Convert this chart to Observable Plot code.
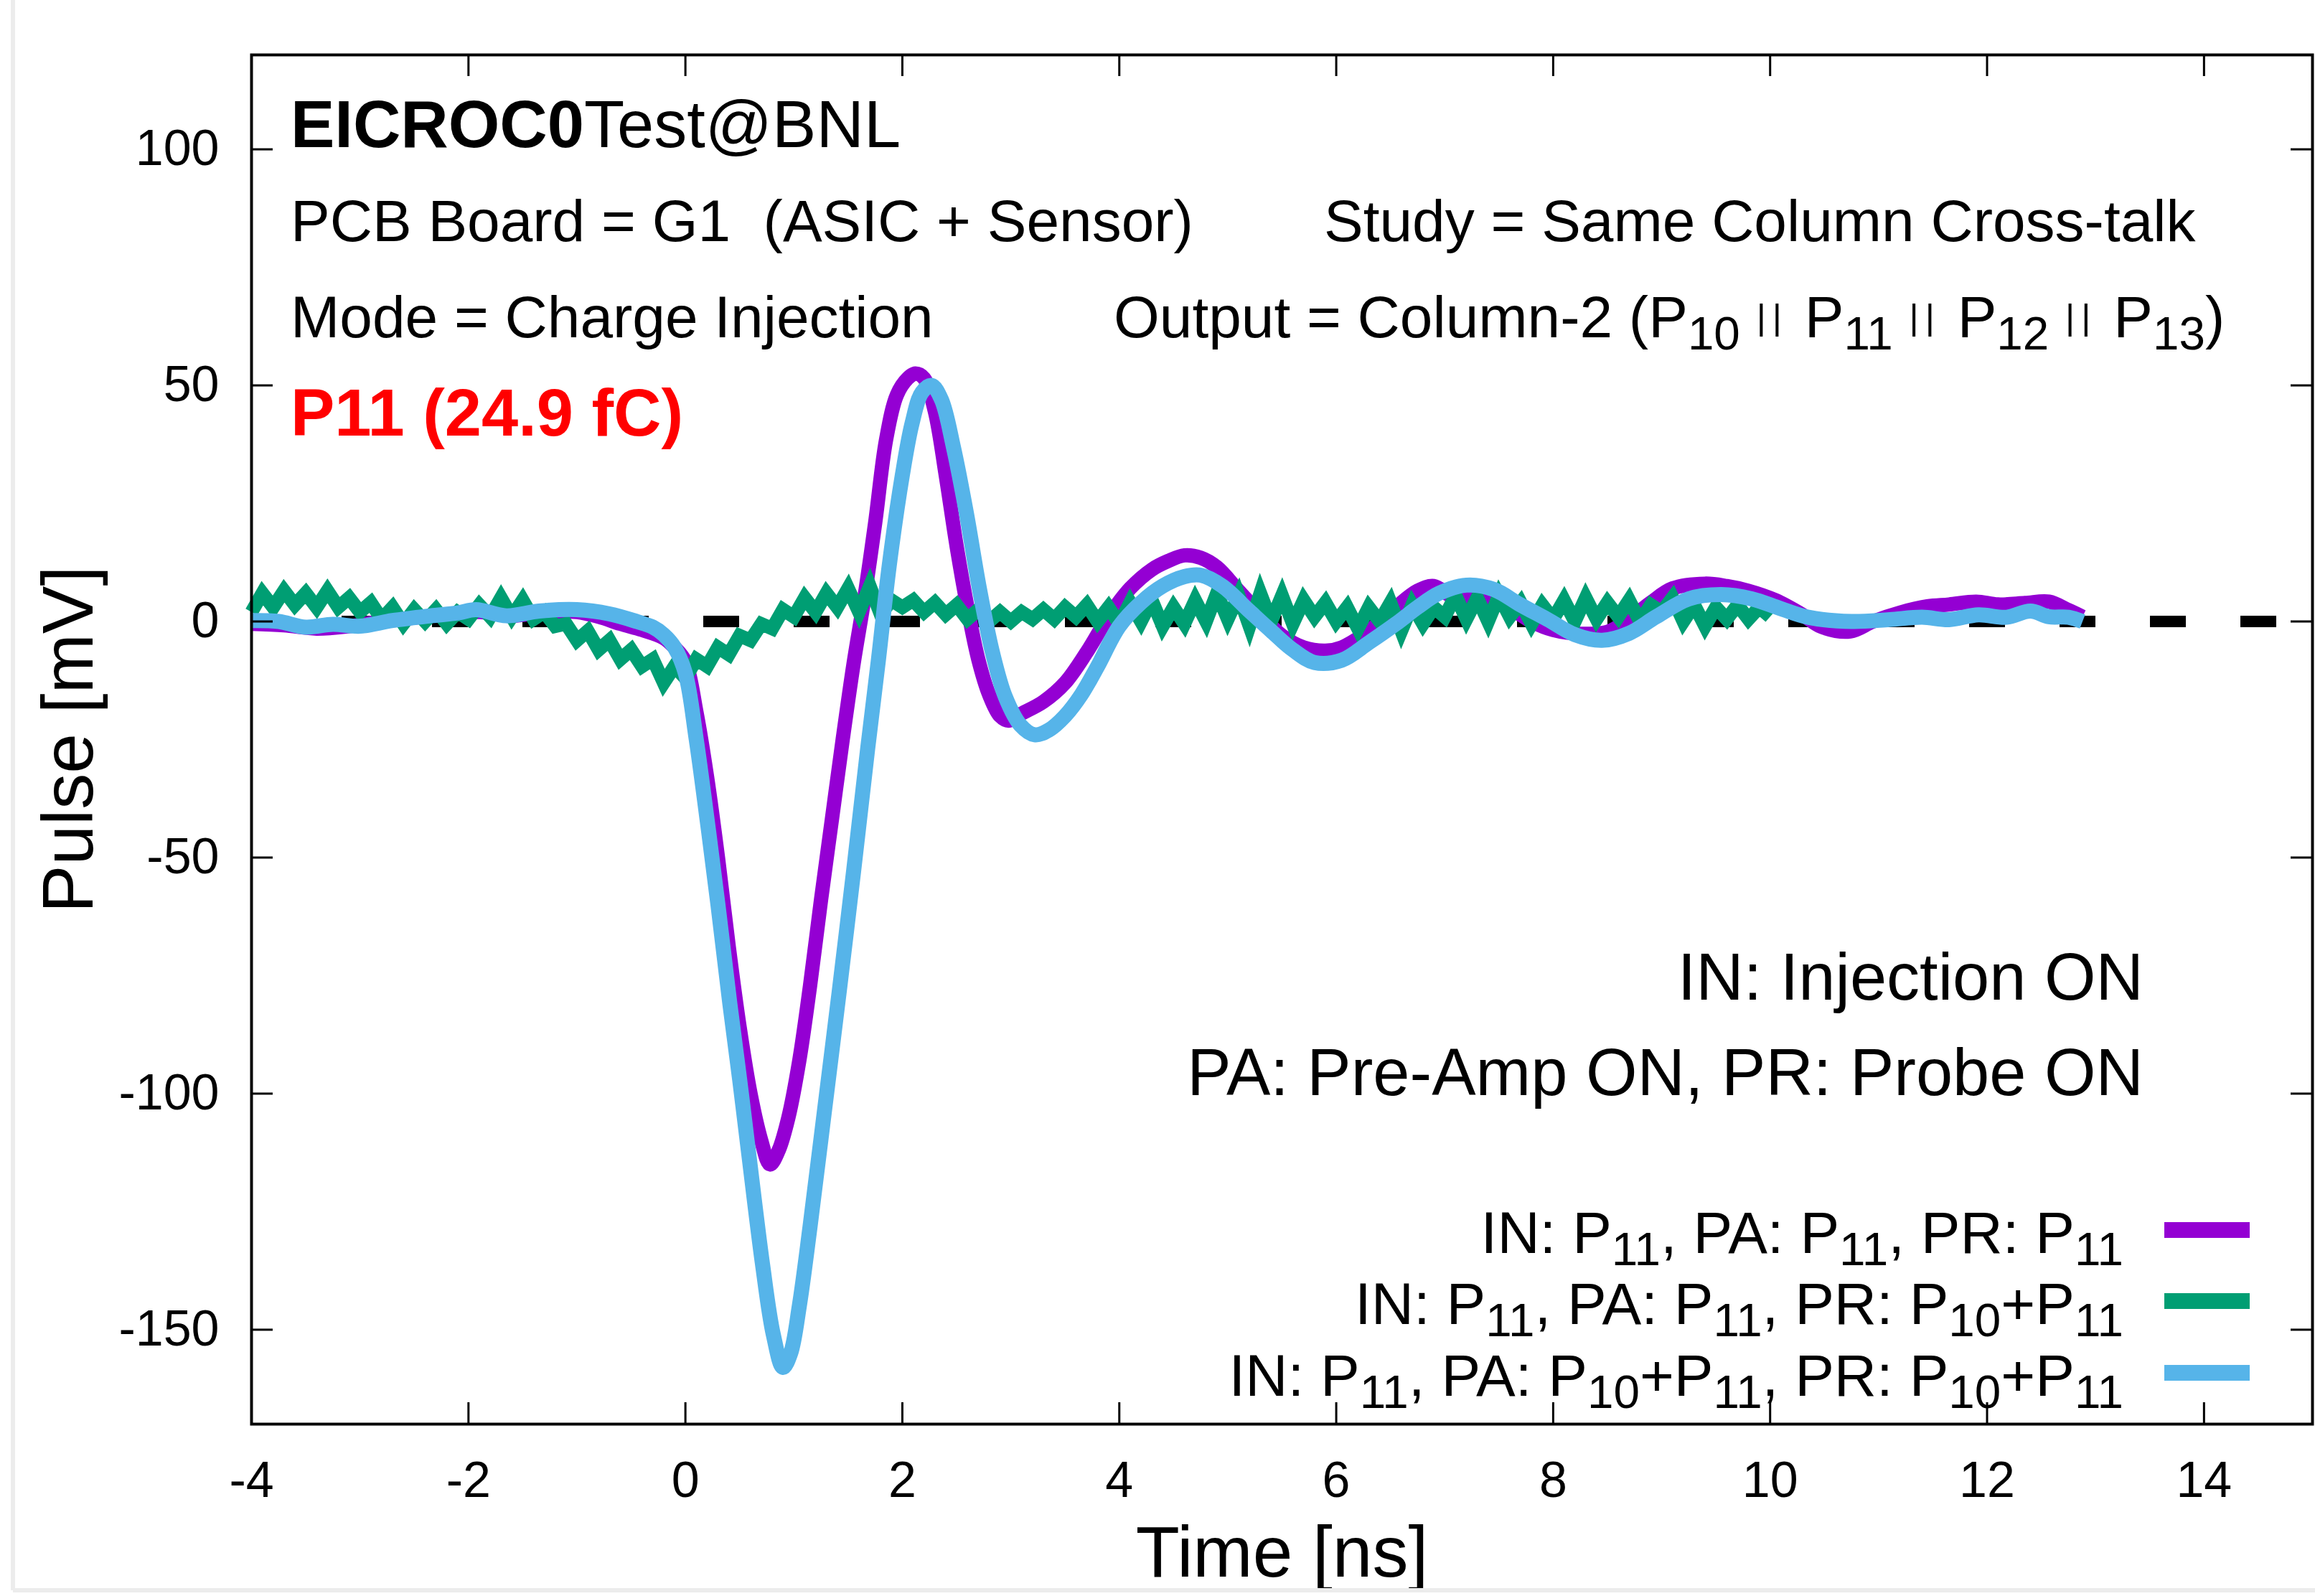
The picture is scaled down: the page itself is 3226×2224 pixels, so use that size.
<!DOCTYPE html>
<html>
<head>
<meta charset="utf-8">
<script src="https://cdn.jsdelivr.net/npm/d3@7"></script>
<script src="https://cdn.jsdelivr.net/npm/@observablehq/plot@0.6"></script>
<style>
  html, body { margin: 0; padding: 0; background: #fff; overflow: hidden; }
  #chart svg { display: block; }
</style>
</head>
<body>
<div id="chart"></div>
<script>
// ---------- data ----------
const xTicks = [-4, -2, 0, 2, 4, 6, 8, 10, 12, 14];
const yTicks = [-150, -100, -50, 0, 50, 100];

// IN: P11, PA: P11, PR: P11  (purple)
const tPurple = [-4.0,-3.7,-3.4,-3.1,-2.8,-2.5,-2.2,-1.9,-1.6,-1.3,-1.0,-0.8,-0.6,-0.4,-0.2,-0.1,0.0,0.1,0.2,0.3,0.4,0.5,0.6,0.7,0.78,0.86,0.95,1.05,1.15,1.25,1.35,1.45,1.55,1.65,1.75,1.85,1.95,2.05,2.12,2.2,2.3,2.4,2.5,2.6,2.7,2.8,2.9,2.98,3.1,3.3,3.5,3.7,3.9,4.1,4.3,4.45,4.6,4.75,4.9,5.1,5.3,5.5,5.7,5.9,6.05,6.3,6.55,6.75,6.9,7.05,7.2,7.4,7.6,7.8,8.0,8.25,8.5,8.7,8.9,9.1,9.4,9.6,9.8,10.05,10.3,10.47,10.74,10.95,11.2,11.45,11.65,11.9,12.1,12.35,12.57,12.75,12.88];
const vPurple = [-0.5,-0.8,-1.5,-1.0,0.0,0.8,1.5,2.0,1.2,2.0,2.0,1.0,-0.5,-1.8,-3.5,-5.5,-8.5,-19,-33,-50,-69,-86,-100,-110,-115,-112,-105,-93,-77,-59,-42,-25,-9,5,21,38.5,48,51.5,52.5,51.5,44.5,31,16,3,-8,-15.5,-20,-21,-19.5,-17,-13,-6.5,1,7,11,12.8,14,13.5,11.5,6.5,1.5,-3,-5.5,-6.2,-5.5,-2,3,6.5,7.5,5.5,4.8,4.5,2.8,0,-1.8,-2.6,-2.2,0.5,4,7,8,7.5,6.5,4.5,1.4,-1.1,-2.1,0,1.9,3.2,3.6,4.2,3.6,3.9,4.2,2.4,1.0];

// IN: P11, PA: P11, PR: P10+P11  (green), sampled every 0.1 ns from -4.0 ns
const greenStart = -4.0, greenStep = 0.1;
const vGreen = [2.0,6.0,3.0,6.5,3.5,6.0,3.0,6.5,3.0,5.0,2.0,4.0,0.5,3.0,-0.5,2.5,0.0,2.5,-0.5,2.0,
  0.5,3.5,1.0,5.0,1.0,4.5,0.5,2.0,-1.0,-0.5,-4.0,-2.0,-6.0,-4.0,-8.0,-6.0,-9.5,-8.0,-13.0,-9.5,
  -12.0,-8.0,-9.5,-5.5,-7.0,-3.0,-4.0,-0.5,-1.5,2.5,1.0,5.0,2.0,6.0,3.0,7.0,2.0,7.5,1.5,4.5,
  3.0,4.5,2.0,4.0,1.5,3.5,0.5,2.5,0.0,2.0,0.0,2.0,0.5,2.5,0.5,3.0,1.0,3.5,0.0,3.0,
  -0.5,4.0,0.0,4.5,-1.0,3.0,-0.5,4.5,0.0,6.0,0.5,5.5,-1.0,6.0,0.0,5.5,-0.5,4.5,1.0,4.0,
  0.0,3.0,-1.5,3.0,0.0,4.0,-2.0,3.5,-0.5,3.0,1.0,5.5,0.5,5.0,0.0,5.5,1.0,4.0,-0.5,3.5,
  0.5,4.5,0.0,5.0,0.5,4.0,1.0,4.5,0.0,3.5,2.0,5.0,0.0,3.5,-1.0,3.0,0.5,3.5,0.5,3.0,1.0];

// IN: P11, PA: P10+P11, PR: P10+P11  (light blue)
const tBlue = [-4.0,-3.75,-3.5,-3.25,-3.0,-2.7,-2.35,-2.1,-1.93,-1.65,-1.35,-1.0,-0.7,-0.45,-0.3,-0.2,-0.1,0.0,0.1,0.2,0.3,0.41,0.5,0.58,0.71,0.81,0.9,0.97,1.05,1.15,1.28,1.42,1.55,1.68,1.78,1.88,2.0,2.09,2.18,2.27,2.36,2.47,2.59,2.71,2.83,2.95,3.09,3.22,3.35,3.5,3.65,3.8,4.0,4.2,4.4,4.6,4.75,4.95,5.2,5.4,5.6,5.8,6.05,6.3,6.55,6.75,6.95,7.2,7.45,7.7,7.95,8.2,8.45,8.7,8.95,9.25,9.55,9.83,10.1,10.35,10.75,11.1,11.4,11.65,11.92,12.18,12.4,12.57,12.75,12.88];
const vBlue = [0.2,0.0,-1.2,-0.6,-1.0,0.2,1.2,1.8,2.5,1.2,2.2,2.5,1.6,0.0,-1.2,-2.8,-5.5,-11,-25,-42,-60,-81,-97,-112,-136,-151,-158,-155,-145,-128,-104,-78,-53,-27,-8,12,31,42,48.5,50,47,37,23,7,-6.5,-16,-22,-24,-23,-20,-15.5,-9.5,-1,4,7.5,9.5,9.8,7.5,2.2,-2,-6,-8.7,-8.2,-4.5,-0.5,3,6,7.7,6.8,3.5,0.4,-2.8,-4,-2.5,1,4.8,5.7,4.8,2.7,0.9,0,0.4,0.9,0.4,1.4,0.9,2.2,1.0,0.9,0.0];

const seriesColors = ["#9400D3", "#009E73", "#56B4E9"];
const titleParts = [["EICROC0", "b"], ["Test@BNL", "n"]];
const infoLeft = ["PCB Board = G1  (ASIC + Sensor)", "Mode = Charge Injection"];
const infoRight1 = "Study = Same Column Cross-talk";
const infoRight2 = [["Output = Column-2 (P","n"],["10","sub"],[" ","n"],["||","bar"],[" P","n"],["11","sub"],[" ","n"],["||","bar"],[" P","n"],["12","sub"],[" ","n"],["||","bar"],[" P","n"],["13","sub"],[")","n"]];
const padLabel = "P11 (24.9 fC)";
const notes = ["IN: Injection ON", "PA: Pre-Amp ON, PR: Probe ON"];
const legendParts = [
  [["IN: P","n"],["11","sub"],[", PA: P","n"],["11","sub"],[", PR: P","n"],["11","sub"]],
  [["IN: P","n"],["11","sub"],[", PA: P","n"],["11","sub"],[", PR: P","n"],["10","sub"],["+P","n"],["11","sub"]],
  [["IN: P","n"],["11","sub"],[", PA: P","n"],["10","sub"],["+P","n"],["11","sub"],[", PR: P","n"],["10","sub"],["+P","n"],["11","sub"]]
];

// ---------- build tables ----------
const purple = tPurple.map((t, i) => ({t, v: vPurple[i]}));
const blue = tBlue.map((t, i) => ({t, v: vBlue[i]}));
const green = vGreen.map((v, i) => ({t: +(greenStart + i * greenStep).toFixed(2), v}));

// ---------- layout ----------
const W = 3226, H = 2224;
const mL = 350, mR = 4, mT = 76, mB = 240;
const FW = W - mL - mR, FH = H - mT - mB;
const TICK = 30;
const FONT = "'Liberation Sans', Arial, Helvetica, sans-serif";

const chart = Plot.plot({
  width: W, height: H,
  marginLeft: mL, marginRight: mR, marginTop: mT, marginBottom: mB,
  style: {background: "#fff", fontFamily: FONT, color: "#000"},
  x: {domain: [-4, 15]},
  y: {domain: [-170, 120]},
  marks: [
    Plot.ruleY([0], {stroke: "#000", strokeWidth: 16, strokeDasharray: "50,76"}),
    Plot.line(purple, {x: "t", y: "v", stroke: seriesColors[0], strokeWidth: 20, curve: "catmull-rom", strokeLinecap: "butt"}),
    Plot.line(green, {x: "t", y: "v", stroke: seriesColors[1], strokeWidth: 19, strokeLinejoin: "miter", strokeMiterlimit: 6, strokeLinecap: "butt"}),
    Plot.line(blue, {x: "t", y: "v", stroke: seriesColors[2], strokeWidth: 21, curve: "catmull-rom", strokeLinecap: "butt"}),
    Plot.frame({stroke: "#000", strokeWidth: 4}),
    Plot.ruleX(xTicks, {x: d => d, insetTop: FH - TICK, stroke: "#000", strokeWidth: 3}),
    Plot.ruleX(xTicks, {x: d => d, insetBottom: FH - TICK, stroke: "#000", strokeWidth: 3}),
    Plot.ruleY(yTicks, {y: d => d, insetRight: FW - TICK, stroke: "#000", strokeWidth: 3}),
    Plot.ruleY(yTicks, {y: d => d, insetLeft: FW - TICK, stroke: "#000", strokeWidth: 3}),
    Plot.axisX(xTicks, {tickSize: 0, tickPadding: 52, fontSize: 70, label: null, tickFormat: d => String(d)}),
    Plot.axisY(yTicks, {tickSize: 0, tickPadding: 45, fontSize: 70, label: null, tickFormat: d => String(d)}),
    Plot.text(["Time [ns]"], {frameAnchor: "bottom", lineAnchor: "bottom", textAnchor: "middle", dy: 212, fontSize: 100, fill: "#000"}),
    Plot.text(["Pulse [mV]"], {frameAnchor: "left", textAnchor: "middle", lineAnchor: "middle", dx: -254, rotate: -90, fontSize: 100, fill: "#000"})
  ]
});
document.getElementById("chart").appendChild(chart);

// ---------- annotations (real SVG text) ----------
const svg = d3.select(chart);
function rich(x, y, anchor, parts, size, opts = {}) {
  const t = svg.append("text")
    .attr("x", x).attr("y", y).attr("text-anchor", anchor)
    .attr("font-family", FONT).attr("font-size", size)
    .attr("fill", opts.fill || "#000")
    .attr("font-weight", opts.weight || "normal")
    .style("white-space", "pre");
  let shift = 0;
  for (const [s, kind] of parts) {
    let target = 0, fs = size, fw = opts.weight || "normal";
    const ts = t.append("tspan");
    if (kind === "sub") { target = Math.round(size * 0.21); fs = size * 0.8; }
    if (kind === "bar") { target = -Math.round(size * 0.13); fs = size * 0.62; ts.attr("letter-spacing", 9); }
    if (kind === "b") fw = "bold";
    ts.attr("dy", target - shift).attr("font-size", fs).attr("font-weight", fw).text(s);
    shift = target;
  }
  return t;
}
// faint page border like the scanned figure
svg.append("line").attr("x1", 18).attr("x2", 18).attr("y1", 0).attr("y2", H - 8).attr("stroke", "#ececec").attr("stroke-width", 6);
svg.append("line").attr("x1", 18).attr("x2", W).attr("y1", H - 8).attr("y2", H - 8).attr("stroke", "#ececec").attr("stroke-width", 6);

rich(405, 205, "start", titleParts, 92);
rich(405, 336, "start", [[infoLeft[0], "n"]], 82);
rich(1845, 336, "start", [[infoRight1, "n"]], 82);
rich(405, 470, "start", [[infoLeft[1], "n"]], 82);
rich(1552, 470, "start", infoRight2, 82);
rich(405, 607, "start", [[padLabel, "n"]], 92, {fill: "#FF0000", weight: "bold"});
rich(2987, 1393, "end", [[notes[0], "n"]], 92);
rich(2987, 1526, "end", [[notes[1], "n"]], 92);

const legY = [1714, 1813, 1913];
legendParts.forEach((parts, i) => {
  rich(2959, legY[i] + 32, "end", parts, 82);
  svg.append("line").attr("x1", 3016).attr("x2", 3135).attr("y1", legY[i]).attr("y2", legY[i])
    .attr("stroke", seriesColors[i]).attr("stroke-width", 22);
});
</script>
</body>
</html>
